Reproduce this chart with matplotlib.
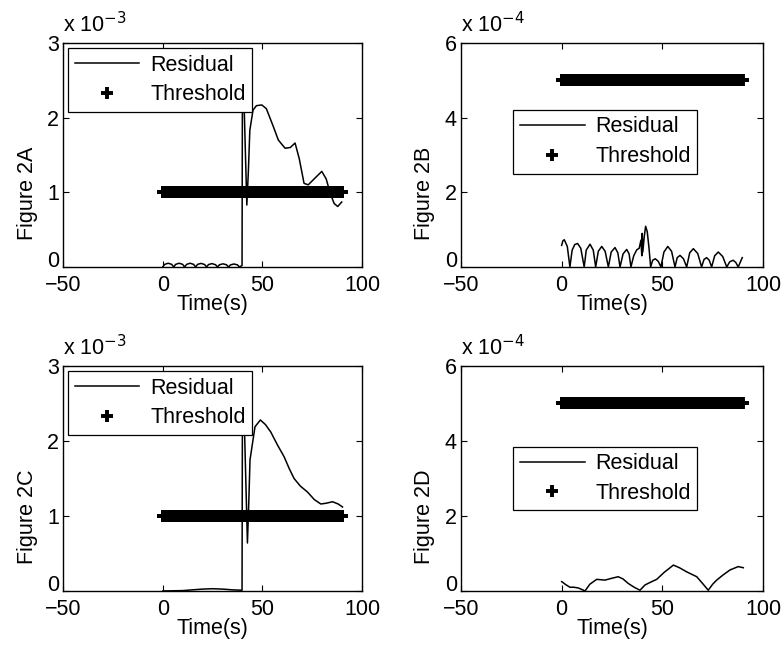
import matplotlib
matplotlib.use('Agg')
import matplotlib.pyplot as plt
import numpy as np

# residual traces (time in s, value in units of the axis multiplier)
ta = [0, 1, 2.75, 4.5, 5.5, 6.5, 8.25, 10, 11, 12, 13.75, 15.5, 16.5, 17.5, 19.25, 21, 22,
      23, 24.75, 26.5, 27.5, 28.5, 30.25, 32, 33, 34, 35.75, 37.5, 38.5, 39.8, 40.0, 40.4,
      42.2, 43.0, 43.7, 45.3, 47.0, 49.7, 52.0, 55.5, 58.0, 61.4, 64.0, 66.4, 68.5, 70.9,
      73.0, 76.0, 79.8, 82.0, 84.0, 86.0, 87.8, 89.8]
ra = [0, 0.035, 0.05, 0.035, 0, 0.035, 0.05, 0.035, 0, 0.035, 0.05, 0.035, 0, 0.035, 0.048, 0.033, 0,
      0.033, 0.045, 0.03, 0, 0.03, 0.042, 0.03, 0, 0.028, 0.04, 0.028, 0, 0.02, 2.6, 2.6,
      0.83, 1.3, 1.83, 2.1, 2.16, 2.17, 2.12, 1.88, 1.7, 1.59, 1.6, 1.66, 1.45, 1.12,
      1.1, 1.18, 1.28, 1.18, 0.99, 0.85, 0.81, 0.87]

tb = [0, 0.6, 1.3, 2.8, 4.1, 5.2, 6.5, 7.9, 9.5, 11.2, 12.2, 14.1, 15.7, 16.9, 18.2, 19.9, 21.6,
      23.2, 24.6, 26.5, 27.9, 29.0, 30.5, 32.3, 33.5, 34.4, 35.8, 37.3, 38.5, 39.4, 39.8, 40.0,
      40.3, 41.0, 41.7, 42.5, 43.4, 44.2, 45.2, 46.5, 48.0, 49.3, 50.8, 52.7, 54.6, 56.3, 57.4,
      58.8, 60.5, 62.1, 63.6, 65.4, 67.6, 69.5, 70.7, 72.0, 73.3, 74.5, 76.0, 77.8, 80.0, 82.0,
      83.5, 85.2, 86.5, 87.7, 89.7]
rb = [0.58, 0.7, 0.73, 0.55, 0, 0.45, 0.6, 0.63, 0.5, 0, 0.45, 0.61, 0.45, 0, 0.42, 0.55, 0.42,
      0, 0.4, 0.52, 0.38, 0, 0.35, 0.47, 0.35, 0, 0.3, 0.46, 0.5, 0.72, 0.3, 0.9,
      0.4, 0.8, 1.09, 0.95, 0.5, 0, 0.18, 0.22, 0.15, 0, 0.4, 0.55, 0.42, 0, 0.25,
      0.31, 0.22, 0, 0.38, 0.49, 0.36, 0, 0.2, 0.25, 0.18, 0, 0.3, 0.4, 0.28, 0,
      0.14, 0.18, 0.12, 0, 0.25]

tc = [0, 10, 15, 20, 25, 30, 35, 39.8, 40.0, 40.6, 42.5, 43.2, 43.8, 46.3, 49.0, 51.5, 54.2,
      57.5, 60.9, 63.5, 65.9, 69.0, 72.6, 76.0, 79.3, 82.0, 85.2, 88.0, 90.2]
rc = [0, 0.005, 0.015, 0.025, 0.03, 0.025, 0.015, 0.01, 2.6, 2.6, 0.64, 1.2, 1.75, 2.19, 2.28, 2.22, 2.12,
      1.95, 1.79, 1.63, 1.5, 1.4, 1.32, 1.22, 1.16, 1.17, 1.19, 1.16, 1.12]

td = [0, 2, 4.1, 6, 8.3, 10, 11.6, 14, 17.4, 21.5, 25, 28.1, 30.5, 33.1, 36, 38.9, 41.4, 44,
      47.2, 51, 55.5, 58.5, 62.1, 67.1, 70, 72.8, 75, 77, 80, 83.6, 87.7, 90.2]
rd = [0.25, 0.17, 0.1, 0.1, 0.08, 0.04, 0, 0.18, 0.31, 0.29, 0.34, 0.38, 0.32, 0.2, 0.1, 0.02, 0.16, 0.23,
      0.31, 0.5, 0.69, 0.62, 0.51, 0.38, 0.2, 0.02, 0.18, 0.29, 0.42, 0.56, 0.65, 0.62]

thresholds = [1.0, 5.0, 1.0, 5.0]
exponents = [-3, -4, -3, -4]
ymaxes = [3, 6, 3, 6]
yticks = [[0, 1, 2, 3], [0, 2, 4, 6], [0, 1, 2, 3], [0, 2, 4, 6]]
names = ['Figure 2A', 'Figure 2B', 'Figure 2C', 'Figure 2D']
times = [ta, tb, tc, td]
resid = [ra, rb, rc, rd]
t_thr = np.linspace(0, 90, 361)

plt.rcParams['font.family'] = ['Liberation Sans', 'DejaVu Sans']
fs = 15.5

fig = plt.figure(figsize=(7.84, 6.48), dpi=100)
pos = [[0.0804, 0.588, 0.3814, 0.3457],
       [0.588, 0.588, 0.3852, 0.3457],
       [0.0804, 0.088, 0.3814, 0.3472],
       [0.588, 0.088, 0.3852, 0.3472]]
leg_anchor = [None, (0.478, 0.559), None, (0.478, 0.499)]

for i in range(4):
    ax = fig.add_axes(pos[i])
    sc = 10.0 ** exponents[i]
    ax.plot(np.array(times[i]), np.array(resid[i]) * sc, color='black', lw=1.1, label='Residual')
    ax.plot(t_thr, np.full_like(t_thr, thresholds[i] * sc), linestyle='none', marker='+',
            color='black', ms=8.5, mew=2.8, label='Threshold')
    ax.set_xlim(-50, 100)
    ax.set_ylim(0, ymaxes[i] * sc)
    ax.set_xticks([-50, 0, 50, 100])
    ax.set_yticks([v * sc for v in yticks[i]])
    ax.set_yticklabels([str(v) for v in yticks[i]])
    ax.tick_params(axis='both', direction='in', top=True, right=True, length=4, width=0.8,
                   labelsize=fs)
    ax.tick_params(axis='x', pad=6)
    ax.tick_params(axis='y', pad=3)
    ylabs = ax.get_yticklabels()
    for lb in ylabs:
        lb.set_verticalalignment('center_baseline')
    ylabs[0].set_verticalalignment('baseline')
    ax.set_xlabel('Time(s)', fontsize=fs, labelpad=-2)
    ax.set_ylabel(names[i], fontsize=fs)
    ax.yaxis.set_label_coords(-0.085, 0.33)
    ax.text(0.0, 1.025, 'x 10$^{%d}$' % exponents[i], transform=ax.transAxes,
            ha='left', va='bottom', fontsize=fs)
    if leg_anchor[i] is None:
        leg = ax.legend(loc='upper left', bbox_to_anchor=(0.0, 1.0), borderaxespad=0.25,
                        fancybox=False, edgecolor='black', framealpha=1, handlelength=3.0,
                        handletextpad=0.5, borderpad=0.3, labelspacing=0.4, fontsize=fs)
    else:
        leg = ax.legend(loc='center', bbox_to_anchor=leg_anchor[i], fancybox=False,
                        edgecolor='black', framealpha=1, handlelength=3.0,
                        handletextpad=0.5, borderpad=0.3, labelspacing=0.4, fontsize=fs)
    leg.get_frame().set_linewidth(0.9)
    for s in ax.spines.values():
        s.set_linewidth(1.0)

plt.savefig('out.png', dpi=100)
